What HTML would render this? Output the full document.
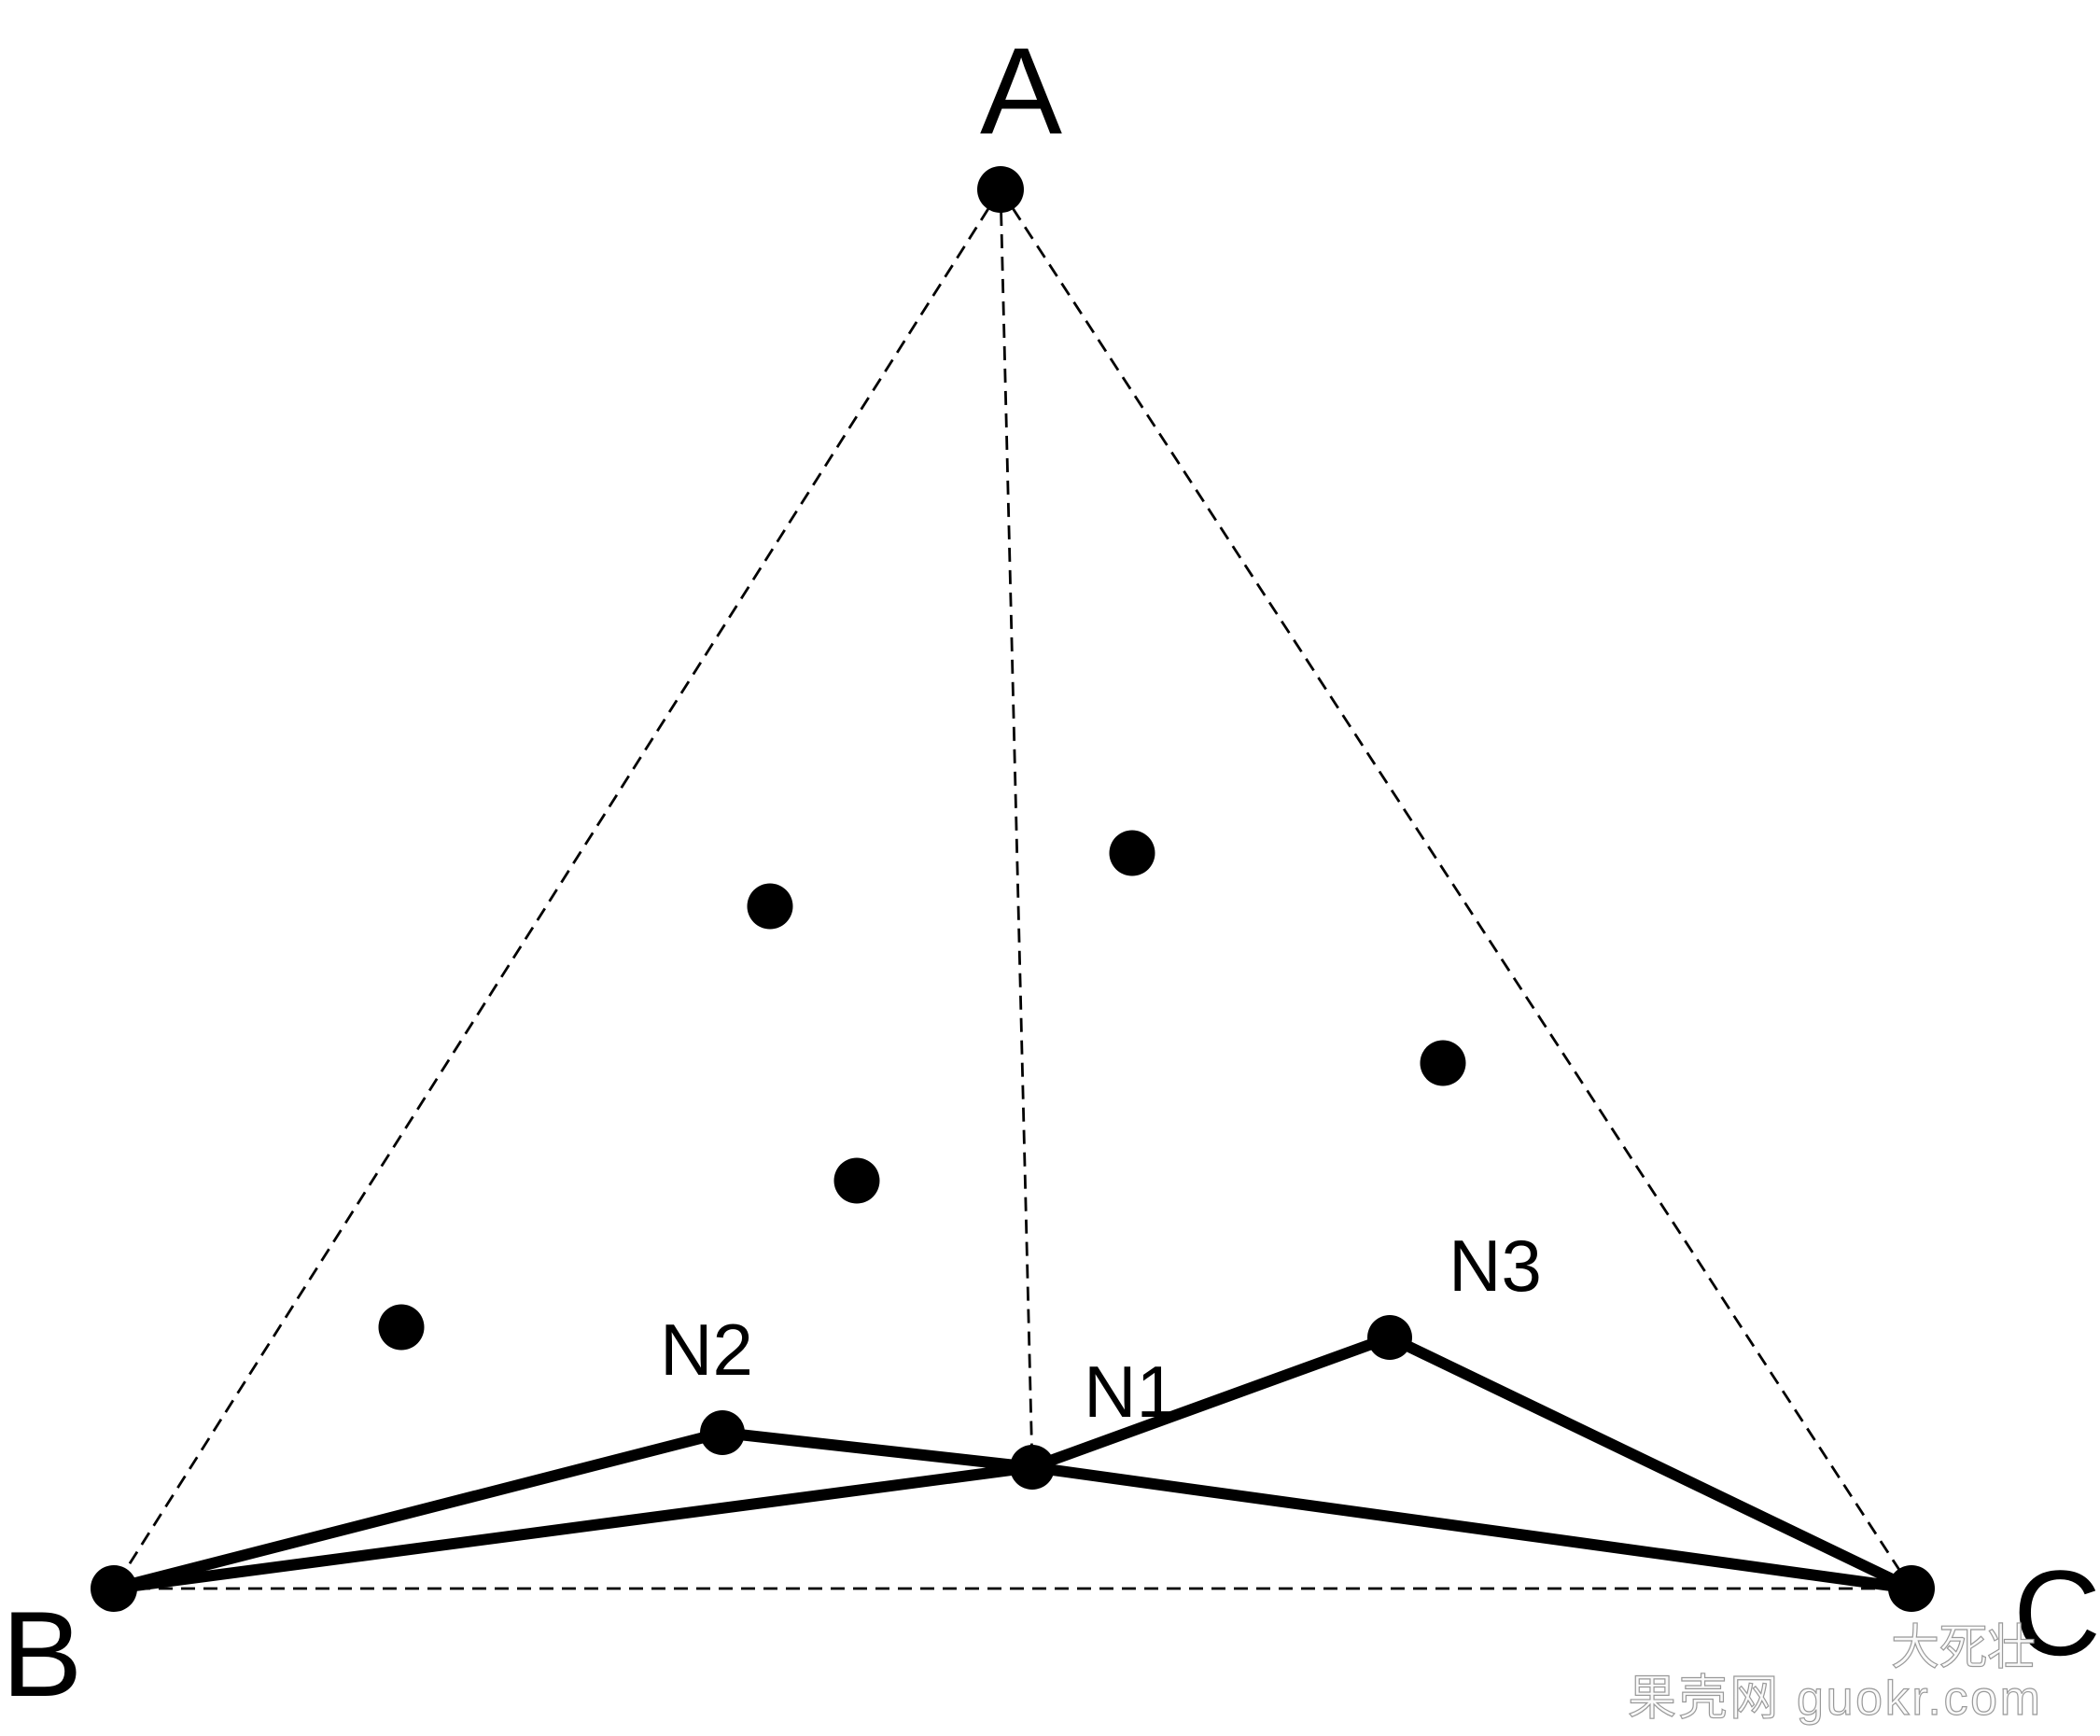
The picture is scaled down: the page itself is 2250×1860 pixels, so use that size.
<!DOCTYPE html>
<html><head><meta charset="utf-8"><style>html,body{margin:0;padding:0;background:#fff}svg{display:block}</style></head>
<body>
<svg width="2250" height="1860" viewBox="0 0 2250 1860" xmlns="http://www.w3.org/2000/svg">
<rect width="2250" height="1860" fill="#fff"/>
<g stroke="#000" stroke-width="2.8" stroke-dasharray="15,9" fill="none">
<line x1="1072" y1="203" x2="122" y2="1702"/>
<line x1="1072" y1="203" x2="2048" y2="1702"/>
<line x1="1072" y1="203" x2="1106" y2="1572"/>
<line x1="122" y1="1702" x2="2048" y2="1702"/>
</g>
<g stroke="#000" stroke-width="12" fill="none" stroke-linejoin="round">
<polyline points="122,1702 774,1535 1106,1572 2048,1702"/>
<polyline points="122,1702 1106,1572 1489,1433 2048,1702"/>
</g>
<g fill="#000">
<circle cx="1072" cy="203" r="25"/>
<circle cx="122" cy="1702" r="25"/>
<circle cx="2048" cy="1702" r="25"/>
<circle cx="774" cy="1535" r="24"/>
<circle cx="1106" cy="1572" r="24"/>
<circle cx="1489" cy="1433" r="24"/>
<circle cx="825" cy="971" r="24.5"/>
<circle cx="1213" cy="914" r="24.5"/>
<circle cx="1546" cy="1139" r="24.5"/>
<circle cx="918" cy="1265" r="24.5"/>
<circle cx="430" cy="1422" r="24.5"/>
</g>
<g font-family="Liberation Sans, sans-serif" fill="#000">
<text x="1094" y="143" font-size="132" text-anchor="middle">A</text>
<text x="45" y="1817" font-size="130" text-anchor="middle">B</text>
<text x="2204" y="1773" font-size="130" text-anchor="middle">C</text>
<text x="757" y="1473" font-size="78" text-anchor="middle">N2</text>
<text x="1211" y="1518" font-size="78" text-anchor="middle">N1</text>
<text x="1602" y="1383" font-size="78" text-anchor="middle">N3</text>
</g>
<g font-family="Liberation Sans, 'Noto Sans CJK SC', sans-serif" font-size="52" fill="#fafafa" stroke="#999" stroke-width="1.2">
<text x="2026" y="1783" textLength="155">大死壮</text>
<text x="1744" y="1837" textLength="442">果壳网 guokr.com</text>
</g>
</svg>
</body></html>
